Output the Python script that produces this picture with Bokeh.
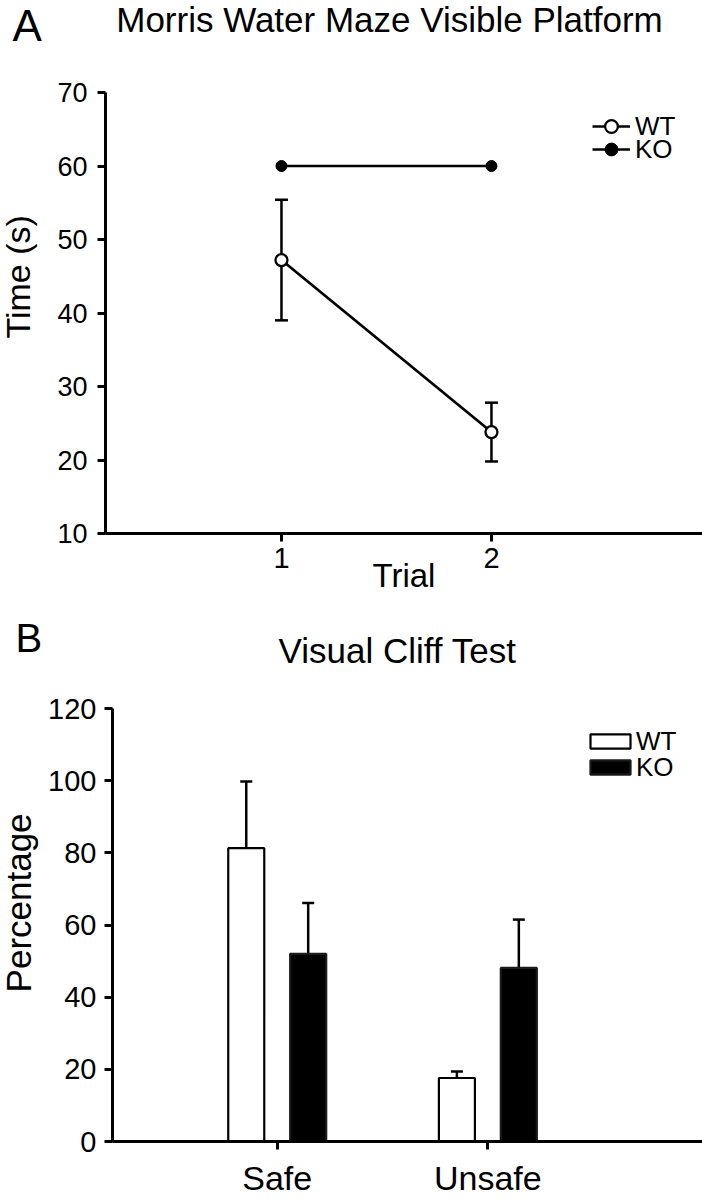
import numpy as np
from bokeh.plotting import figure
from bokeh.models import (ColumnDataSource, Whisker, TeeHead, FixedTicker,
                          Range1d, Legend, LegendItem)
from bokeh.core.properties import value
from bokeh.layouts import column, row
from bokeh.embed import file_html
from bokeh.resources import INLINE

FONT = "Liberation Sans"

# ---------------- Panel A data ----------------
trials = [1, 2]
wt_time = [47.2, 23.8]
wt_sem = [8.2, 4.0]
ko_time = [60.0, 60.0]
a_yticks = [10, 20, 30, 40, 50, 60, 70]

# ---------------- Panel B data ----------------
conditions = ["Safe", "Unsafe"]
wt_pct = [81.3, 17.6]
wt_pct_err = [18.5, 1.8]
ko_pct = [52.0, 48.1]
ko_pct_err = [14.1, 13.4]
b_yticks = [0, 20, 40, 60, 80, 100, 120]

# ---------------- texts ----------------
panel_letters = ["A", "B"]
panel_titles = ["Morris Water Maze Visible Platform", "Visual Cliff Test"]
y_titles = ["Time (s)", "Percentage"]
x_title_a = "Trial"
series = ["WT", "KO"]

W = 702
SIDE_W = 45


def blank(width, height, flip=True):
    f = figure(width=width, height=height, output_backend="svg",
               toolbar_location=None, x_axis_type=None, y_axis_type=None,
               x_range=Range1d(0, width),
               y_range=Range1d(height, 0) if flip else Range1d(0, height),
               min_border=0, min_border_left=0, min_border_right=0,
               min_border_top=0, min_border_bottom=0)
    f.outline_line_color = None
    f.grid.visible = False
    f.background_fill_color = "white"
    f.border_fill_color = "white"
    return f


def style_axis(ax, size, lw=3):
    ax.axis_line_width = lw
    ax.axis_line_color = "black"
    ax.major_tick_line_width = lw
    ax.major_tick_line_color = "black"
    ax.major_tick_out = 8
    ax.major_tick_in = 0
    ax.minor_tick_out = 0
    ax.minor_tick_in = 0
    ax.major_label_text_font = FONT
    ax.major_label_text_font_size = size
    ax.major_label_text_color = "black"


def base_fig(width, height, xr, yr, left, top, bottom):
    f = figure(width=width, height=height, output_backend="svg",
               toolbar_location=None, x_range=Range1d(*xr), y_range=Range1d(*yr),
               min_border_left=left, min_border_right=0, min_border_top=top,
               min_border_bottom=bottom)
    f.outline_line_color = None
    f.grid.visible = False
    f.background_fill_color = "white"
    f.border_fill_color = "white"
    return f


def one_legend(label, renderers, loc, gw, gh, standoff):
    return Legend(items=[LegendItem(label=label, renderers=renderers)],
                  location=loc, padding=0, margin=0, spacing=0,
                  glyph_width=gw, glyph_height=gh, label_height=32,
                  label_standoff=standoff, label_text_font=FONT,
                  label_text_font_size="26px", label_text_color="black",
                  border_line_color=None, background_fill_alpha=0)


def put_text(f, x, y, text, size, align="center", angle=0.0):
    f.text(x=[x], y=[y], text=[text], text_font=value(FONT),
           text_font_size=size, text_align=align, text_baseline="middle",
           angle=angle, text_color="black")


# ================= Header A =================
headA = blank(W, 60)
put_text(headA, 12, 25, panel_letters[0], "44px", align="left")
put_text(headA, 389, 19, panel_titles[0], "35px")

# ================= Side A =================
A_H = 543
sideA = blank(SIDE_W, A_H, flip=False)
put_text(sideA, 17, A_H - 227, y_titles[0], "34px", angle=np.pi / 2)

# ================= Panel A =================
pa = base_fig(W - SIDE_W, A_H, (0.162, 3.005), (10, 70), left=60, top=32, bottom=70)
style_axis(pa.xaxis[0], "29px")
style_axis(pa.yaxis[0], "27px")
pa.xaxis.ticker = FixedTicker(ticks=trials)
pa.yaxis.ticker = FixedTicker(ticks=a_yticks)
pa.yaxis.major_label_standoff = 10
pa.xaxis.major_label_standoff = 6
pa.xaxis.axis_label = x_title_a
pa.xaxis.axis_label_text_font = FONT
pa.xaxis.axis_label_text_font_size = "33px"
pa.xaxis.axis_label_text_font_style = "normal"
pa.xaxis.axis_label_text_color = "black"
pa.xaxis.axis_label_standoff = -14

src_wt = ColumnDataSource(dict(
    x=trials, y=wt_time,
    upper=[m + s for m, s in zip(wt_time, wt_sem)],
    lower=[m - s for m, s in zip(wt_time, wt_sem)]))
src_ko = ColumnDataSource(dict(x=trials, y=ko_time))

l_ko = pa.line("x", "y", source=src_ko, line_color="black", line_width=2.7)
l_wt = pa.line("x", "y", source=src_wt, line_color="black", line_width=2.7)
wh = Whisker(base="x", upper="upper", lower="lower", source=src_wt,
             dimension="height", line_width=2.5, line_color="black",
             upper_head=TeeHead(size=13, line_width=2.5, line_color="black"),
             lower_head=TeeHead(size=13, line_width=2.5, line_color="black"),
             level="underlay")
pa.add_layout(wh)
s_ko = pa.scatter("x", "y", source=src_ko, size=11, fill_color="black",
                  line_color="black", line_width=1)
s_wt = pa.scatter("x", "y", source=src_wt, size=12, fill_color="white",
                  line_color="black", line_width=2.3)

pa.add_layout(one_legend(series[0], [l_wt, s_wt], (487, 391), 38, 32, 5))
pa.add_layout(one_legend(series[1], [l_ko, s_ko], (487, 368), 38, 32, 5))

# ================= Header B =================
headB = blank(W, 86)
put_text(headB, 15, 34, panel_letters[1], "40px", align="left")
put_text(headB, 397, 47, panel_titles[1], "35px")

# ================= Side B =================
B_H = 510
sideB = blank(SIDE_W, B_H, flip=False)
put_text(sideB, 18, B_H - 229, y_titles[1], "35px", angle=np.pi / 2)

# ================= Panel B =================
pb = base_fig(W - SIDE_W, B_H, (0.218, 3.019), (0, 120), left=66, top=19, bottom=56)
style_axis(pb.xaxis[0], "34px")
style_axis(pb.yaxis[0], "29px")
xs = list(range(1, len(conditions) + 1))
pb.xaxis.ticker = FixedTicker(ticks=xs)
pb.xaxis.major_label_overrides = {x: c for x, c in zip(xs, conditions)}
pb.xaxis.major_label_standoff = 9
pb.yaxis.ticker = FixedTicker(ticks=b_yticks)
pb.yaxis.major_label_standoff = 8

dodge = 0.147
bar_w = 0.171
src_b = ColumnDataSource(dict(
    wt_x=[x - dodge for x in xs], ko_x=[x + dodge for x in xs],
    wt=wt_pct, ko=ko_pct,
    wt_top=[m + e for m, e in zip(wt_pct, wt_pct_err)],
    ko_top=[m + e for m, e in zip(ko_pct, ko_pct_err)]))

b_wt = pb.vbar(x="wt_x", top="wt", bottom=0, width=bar_w, source=src_b,
               fill_color="white", line_color="black", line_width=2.2)
b_ko = pb.vbar(x="ko_x", top="ko", bottom=0, width=bar_w, source=src_b,
               fill_color="black", line_color="#1a1a1a", line_width=2.2)
for base, lo, hi in (("wt_x", "wt", "wt_top"), ("ko_x", "ko", "ko_top")):
    pb.add_layout(Whisker(base=base, lower=lo, upper=hi, source=src_b,
                          dimension="height", line_width=2.5, line_color="black",
                          lower_head=None,
                          upper_head=TeeHead(size=12, line_width=2.5,
                                             line_color="black")))

pb.add_layout(one_legend(series[0], [b_wt], (473, 384), 50, 18, 1))
pb.add_layout(one_legend(series[1], [b_ko], (473, 358), 50, 18, 1))

layout = column(headA, row(sideA, pa), headB, row(sideB, pb))
open("out.html", "w").write(file_html(layout, INLINE))
